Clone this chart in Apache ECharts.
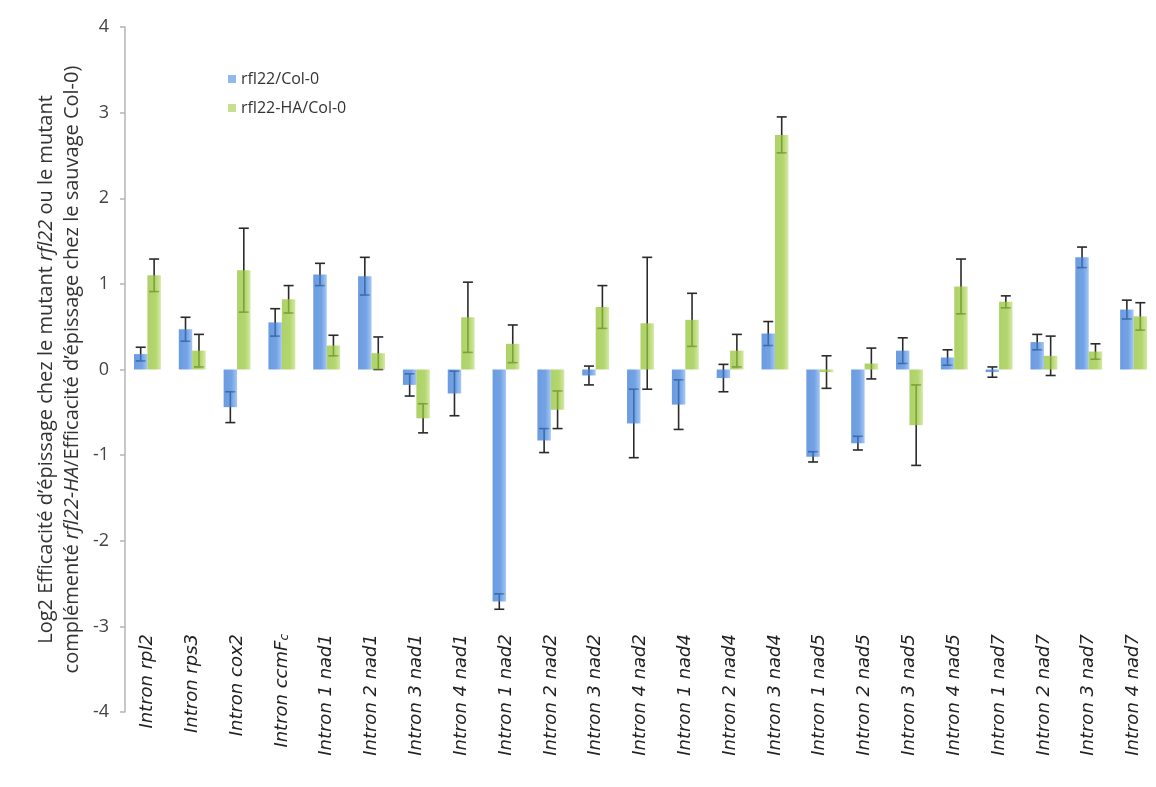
<!DOCTYPE html>
<html>
<head>
<meta charset="utf-8">
<script src="https://cdn.jsdelivr.net/npm/echarts@6/dist/echarts.min.js"></script>
<style>
html,body{margin:0;padding:0;background:#fff;}
#chart{width:1156px;height:787px;}
</style>
</head>
<body>
<div id="chart"></div>
<script>
const categories = [
  'Intron rpl2','Intron rps3','Intron cox2','Intron ccmFc',
  'Intron 1 nad1','Intron 2 nad1','Intron 3 nad1','Intron 4 nad1',
  'Intron 1 nad2','Intron 2 nad2','Intron 3 nad2','Intron 4 nad2',
  'Intron 1 nad4','Intron 2 nad4','Intron 3 nad4',
  'Intron 1 nad5','Intron 2 nad5','Intron 3 nad5','Intron 4 nad5',
  'Intron 1 nad7','Intron 2 nad7','Intron 3 nad7','Intron 4 nad7'
];
const seriesNames = ['rfl22/Col-0', 'rfl22-HA/Col-0'];
const mutantValues = [0.18, 0.47, -0.44, 0.55, 1.11, 1.09, -0.18, -0.28, -2.71, -0.83, -0.07, -0.63,
  -0.41, -0.10, 0.42, -1.02, -0.86, 0.22, 0.14, -0.03, 0.32, 1.31, 0.70];
const mutantErrors = [0.08, 0.14, 0.18, 0.16, 0.13, 0.22, 0.13, 0.26, 0.09, 0.14, 0.11, 0.40,
  0.29, 0.16, 0.14, 0.06, 0.08, 0.15, 0.09, 0.06, 0.09, 0.12, 0.11];
const complementedValues = [1.10, 0.22, 1.16, 0.82, 0.28, 0.19, -0.57, 0.61, 0.30, -0.47, 0.73, 0.54,
  0.58, 0.22, 2.74, -0.03, 0.07, -0.65, 0.97, 0.79, 0.16, 0.21, 0.62];
const complementedErrors = [0.19, 0.19, 0.49, 0.16, 0.12, 0.19, 0.17, 0.41, 0.22, 0.22, 0.25, 0.77,
  0.31, 0.19, 0.21, 0.19, 0.18, 0.47, 0.32, 0.07, 0.23, 0.09, 0.16];
const yTicks = { min: -4, max: 4, interval: 1 };

const chart = echarts.init(document.getElementById('chart'));

function errData(vals, errs) {
  return vals.map((v, i) => [i, v - errs[i], v + errs[i]]);
}
function errRender(side) {
  return function (params, api) {
    const x = api.value(0);
    const lo = api.coord([x, api.value(1)]);
    const hi = api.coord([x, api.value(2)]);
    const bw = api.size([1, 0])[0];
    const cx = hi[0] + side * bw * 0.15;
    const cap = 5;
    const st = { stroke: '#2a2a2a', lineWidth: 1.6 };
    return {
      type: 'group',
      children: [
        { type: 'line', shape: { x1: cx, y1: hi[1], x2: cx, y2: lo[1] }, style: st },
        { type: 'line', shape: { x1: cx - cap, y1: hi[1], x2: cx + cap, y2: hi[1] }, style: st },
        { type: 'line', shape: { x1: cx - cap, y1: lo[1], x2: cx + cap, y2: lo[1] }, style: st }
      ]
    };
  };
}

const blueGrad = new echarts.graphic.LinearGradient(0, 0, 1, 0, [
  { offset: 0, color: '#3a7ad6' }, { offset: 0.6, color: '#4584dc' }, { offset: 1, color: '#86b5ef' }
]);
const greenGrad = new echarts.graphic.LinearGradient(0, 0, 1, 0, [
  { offset: 0, color: '#93c236' }, { offset: 0.6, color: '#9ac840' }, { offset: 1, color: '#c6e284' }
]);

const option = {
  backgroundColor: '#fff',
  animation: false,
  grid: { left: 125, top: 27, width: 1035, height: 685, containLabel: false },
  legend: {
    orient: 'vertical', left: 223, top: 66, itemGap: 13,
    itemWidth: 8, itemHeight: 8, icon: 'rect',
    textStyle: { fontFamily: 'Open Sans', fontSize: 16, color: '#333' },
    data: [
      { name: seriesNames[0], itemStyle: { color: '#6fa0e4' } },
      { name: seriesNames[1], itemStyle: { color: '#b0d46a' } }
    ]
  },
  xAxis: {
    type: 'category', data: categories, position: 'bottom',
    axisLine: { show: false }, axisTick: { show: false },
    axisLabel: {
      interval: 0, rotate: 90, margin: -78,
      formatter: function (v) {
        if (v === 'Intron ccmFc') return '{a|Intron ccmF}{s|c}';
        return '{a|' + v + '}';
      },
      rich: {
        a: { fontFamily: 'DejaVu Sans', fontStyle: 'italic', fontSize: 18, color: '#222' },
        s: { fontFamily: 'DejaVu Sans', fontStyle: 'italic', fontSize: 12, color: '#222', verticalAlign: 'bottom' }
      }
    }
  },
  yAxis: {
    type: 'value', min: yTicks.min, max: yTicks.max, interval: yTicks.interval,
    axisLine: { show: true, lineStyle: { color: '#b5b5b5', width: 1.5 } },
    axisTick: { show: true, length: 5, lineStyle: { color: '#b5b5b5', width: 1.5 } },
    splitLine: { show: false },
    axisLabel: { fontFamily: 'Open Sans', fontSize: 18, color: '#444', margin: 16 },
    name: '{n|Log2 Efficacité d\u2019épissage chez le mutant }{i|rfl22}{n| ou le mutant}\n{n|complémenté }{i|rfl22-HA}{n|/Efficacité d\u2019épissage chez le sauvage Col-0)}',
    nameLocation: 'middle', nameRotate: 90, nameGap: 25,
    nameTextStyle: {
      align: 'center',
      rich: {
        n: { fontFamily: 'Open Sans', fontSize: 20, color: '#333', lineHeight: 26 },
        i: { fontFamily: 'Open Sans', fontStyle: 'italic', fontSize: 20, color: '#333', lineHeight: 26 }
      }
    }
  },
  series: [
    {
      name: seriesNames[0], type: 'bar', data: mutantValues, z: 3,
      barGap: '0%', barCategoryGap: '40%',
      itemStyle: { color: blueGrad, opacity: 0.75 }
    },
    {
      name: seriesNames[1], type: 'bar', data: complementedValues, z: 3,
      barGap: '0%', barCategoryGap: '40%',
      itemStyle: { color: greenGrad, opacity: 0.75 }
    },
    {
      type: 'custom', name: 'errMutant', z: 2, renderItem: errRender(-1),
      data: errData(mutantValues, mutantErrors), encode: { x: 0, y: [1, 2] }, silent: true
    },
    {
      type: 'custom', name: 'errComp', z: 2, renderItem: errRender(1),
      data: errData(complementedValues, complementedErrors), encode: { x: 0, y: [1, 2] }, silent: true
    }
  ]
};
chart.setOption(option);
</script>
</body>
</html>
